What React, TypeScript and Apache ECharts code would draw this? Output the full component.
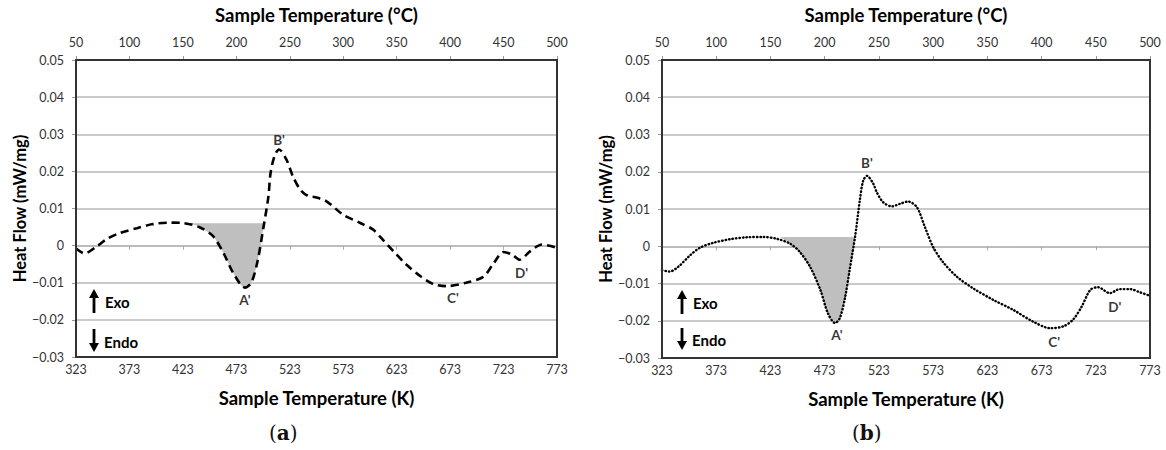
import React, { useEffect, useRef } from "react";
import * as echarts from "echarts";

// Axis ranges
const kelvinRange = [323, 773];
const kelvinStep = 50;
const celsiusRange = [50, 500];
const celsiusStep = 50;
const heatFlowRange = [-0.03, 0.05];
const heatFlowStep = 0.01;

// (a) dashed curve: [Sample temperature (K), heat flow (mW/mg)]
const curveA: number[][] = [
  [323, -0.0008], [331, -0.0021], [342, -0.0003], [352, 0.0018], [364, 0.0034],
  [380, 0.0047], [395, 0.0058], [411, 0.0062], [423, 0.0061], [439, 0.0049],
  [451, 0.0026], [461, -0.002], [470, -0.0073], [481, -0.0113], [487, -0.01],
  [493, -0.004], [498, 0.0043], [503, 0.0132], [505, 0.0195], [509, 0.0244],
  [513, 0.0259], [520, 0.0231], [526, 0.0186], [533, 0.015], [540, 0.0134],
  [546, 0.0131], [557, 0.012], [573, 0.0083], [589, 0.0061], [601, 0.0043],
  [610, 0.0016], [620, -0.0015], [632, -0.0051], [645, -0.0082], [657, -0.0103],
  [670, -0.0109], [688, -0.01], [704, -0.0084], [713, -0.0051], [723, -0.0017],
  [731, -0.0024], [738, -0.0038], [748, -0.0015], [759, 0.0003], [773, -0.0006],
];

// (b) dotted curve
const curveB: number[][] = [
  [323, -0.0064], [330, -0.0068], [338, -0.0055], [349, -0.0024], [358, -0.0004],
  [370, 0.0009], [386, 0.0019], [401, 0.0024], [416, 0.0025], [429, 0.002],
  [441, 0.0007], [450, -0.0015], [459.5, -0.0055], [469, -0.0117], [476, -0.018],
  [482.5, -0.0206], [487, -0.0193], [492, -0.0135], [496, -0.0064], [501, 0.0025],
  [505.5, 0.0125], [508.5, 0.0176], [512, 0.0189], [518, 0.0167], [521, 0.0145],
  [527, 0.0118], [535, 0.0107], [542.5, 0.0114], [550, 0.012], [558, 0.0105],
  [565.5, 0.0051], [573, -0.0002], [582, -0.0042], [595, -0.0082], [610, -0.0113],
  [628.5, -0.0144], [647, -0.0171], [665, -0.0202], [681, -0.022], [693, -0.0215],
  [702, -0.0197], [710, -0.0162], [718, -0.0117], [725, -0.011], [736, -0.0126],
  [745, -0.0115], [754.5, -0.0115], [764, -0.0124], [773, -0.0133],
];

// Shaded peak areas: [start K, end K, baseline heat flow]
const shadeBoundsA = [430, 499, 0.006];
const shadeBoundsB = [432, 501, 0.0025];

// Point labels: [name, K, heat flow]
const labelsA: [string, number, number][] = [
  ["A'", 481, -0.0113], ["B'", 513, 0.0259], ["C'", 670, -0.0109], ["D'", 738, -0.0038],
];
const labelsB: [string, number, number][] = [
  ["A'", 482.5, -0.0206], ["B'", 512, 0.0189], ["C'", 681, -0.022], ["D'", 736, -0.0126],
];

const FONT = "Lato, 'Open Sans', sans-serif";

function shadeData(curve: number[][], bounds: number[]) {
  const [s, e, base] = bounds;
  const inner = curve.filter((p) => p[0] > s && p[0] < e);
  return [[s, base], ...inner, [e, base]];
}

function fmtY(v: number) {
  if (Math.abs(v) < 1e-9) return "0";
  return v.toFixed(2).replace("-", "\u2212");
}

function axesFor(gridIndex: number) {
  const x = [
    {
      type: "value", gridIndex, position: "bottom",
      min: kelvinRange[0], max: kelvinRange[1], interval: kelvinStep,
      name: "Sample Temperature (K)", nameLocation: "middle", nameGap: 31,
      nameTextStyle: { fontFamily: FONT, fontWeight: "bold", fontSize: 18.5, color: "#000" },
      axisLine: { show: false, onZero: false },
      axisTick: { show: false },
      splitLine: { show: false },
      axisLabel: { margin: 6, fontFamily: FONT, fontSize: 12.5, color: "#333" },
    },
    {
      type: "value", gridIndex, position: "top",
      min: celsiusRange[0], max: celsiusRange[1], interval: celsiusStep,
      name: "Sample Temperature (°C)", nameLocation: "middle", nameGap: 36,
      nameTextStyle: { fontFamily: FONT, fontWeight: "bold", fontSize: 18.5, color: "#000" },
      axisLine: { show: false, onZero: false },
      axisTick: { show: true, length: 4, lineStyle: { color: "#999" } },
      splitLine: { show: false },
      axisLabel: { margin: 11, fontFamily: FONT, fontSize: 12.5, color: "#333" },
    },
    {
      type: "value", gridIndex, position: "bottom",
      min: kelvinRange[0], max: kelvinRange[1], interval: kelvinStep,
      axisLine: { show: true, onZero: true, lineStyle: { color: "#b8b8b8", width: 1.5 } },
      axisTick: { show: true, length: 4, lineStyle: { color: "#aaa" } },
      axisLabel: { show: false },
      splitLine: { show: false },
    },
  ];
  const y = {
    type: "value", gridIndex,
    min: heatFlowRange[0], max: heatFlowRange[1], interval: heatFlowStep,
    name: "Heat Flow (mW/mg)", nameLocation: "middle", nameGap: 46,
    nameTextStyle: { fontFamily: FONT, fontWeight: "bold", fontSize: 16.5, color: "#000" },
    axisLine: { show: false },
    axisTick: { show: true, length: 4, lineStyle: { color: "#999" } },
    splitLine: { show: true, showMinLine: false, showMaxLine: false, lineStyle: { color: "#b8b8b8", width: 1.5 } },
    axisLabel: { margin: 12, fontFamily: FONT, fontSize: 12.5, color: "#333", formatter: fmtY },
  };
  return { x, y };
}

function seriesFor(
  gridIndex: number, curve: number[][], bounds: number[],
  labels: [string, number, number][], lineType: any, width: number, cap: string,
  labelOpts: Record<string, any>
) {
  const xi = gridIndex * 3;
  return [
    {
      type: "line", xAxisIndex: xi, yAxisIndex: gridIndex,
      data: shadeData(curve, bounds), smooth: 0.3, showSymbol: false, symbol: "none",
      lineStyle: { width: 0 },
      areaStyle: { color: "#bfbfbf", opacity: 1, origin: bounds[2] },
      z: 2, silent: true,
    },
    {
      type: "line", xAxisIndex: xi, yAxisIndex: gridIndex,
      data: curve, smooth: 0.3, showSymbol: false, symbol: "none",
      lineStyle: { color: "#000", width, type: lineType, cap },
      z: 3,
    },
    {
      type: "scatter", xAxisIndex: xi, yAxisIndex: gridIndex,
      symbolSize: 1, itemStyle: { color: "rgba(0,0,0,0)" },
      data: labels.map(([name, k, v]) => ({
        name, value: [k, v],
        label: {
          show: true, formatter: name,
          fontFamily: FONT, fontWeight: "bold", fontSize: 13.5, color: "#000",
          ...(labelOpts[name] || {}),
        },
      })),
      z: 4,
    },
  ];
}

// Exo / Endo direction markers (arrow shaft + head, then text)
function exoEndo(ax: number, exoTop: number, exoBottom: number, endoTop: number, endoBottom: number, textX: number) {
  const stroke = { stroke: "#000", lineWidth: 2.8 };
  const head = 5;
  const txtFont = `bold 15px ${FONT}`;
  return [
    { type: "line", shape: { x1: ax, y1: exoBottom, x2: ax, y2: exoTop + 7 }, style: stroke },
    { type: "polygon", shape: { points: [[ax - head, exoTop + 9], [ax + head, exoTop + 9], [ax, exoTop]] }, style: { fill: "#000" } },
    { type: "text", x: textX, y: (exoTop + exoBottom) / 2 + 1, style: { text: "Exo", font: txtFont, fill: "#000", verticalAlign: "middle" } },
    { type: "line", shape: { x1: ax, y1: endoTop, x2: ax, y2: endoBottom - 7 }, style: stroke },
    { type: "polygon", shape: { points: [[ax - head, endoBottom - 9], [ax + head, endoBottom - 9], [ax, endoBottom]] }, style: { fill: "#000" } },
    { type: "text", x: textX - 1, y: (endoTop + endoBottom) / 2 + 1, style: { text: "Endo", font: txtFont, fill: "#000", verticalAlign: "middle" } },
  ];
}

function caption(cx: number, letter: string) {
  return {
    type: "text", left: cx - 14, top: 423,
    style: {
      text: `{n|(}{b|${letter}}{n|)}`,
      rich: {
        n: { font: "20px 'DejaVu Serif', 'Liberation Serif', serif", fill: "#111" },
        b: { font: "bold 20px 'DejaVu Serif', 'Liberation Serif', serif", fill: "#111" },
      },
    },
  };
}

export default function App() {
  const ref = useRef<HTMLDivElement>(null);
  useEffect(() => {
    if (!ref.current) return;
    const chart = echarts.init(ref.current, null, { renderer: "svg" });
    const a = axesFor(0);
    const b = axesFor(1);
    const labelOptsA = {
      "A'": { position: "bottom", distance: 5 },
      "B'": { position: "top", distance: 2 },
      "C'": { position: "bottom", distance: 4, offset: [6, 0] },
      "D'": { position: "bottom", distance: 6, offset: [2, 0] },
    };
    const labelOptsB = {
      "A'": { position: "bottom", distance: 5, offset: [2, 0] },
      "B'": { position: "top", distance: 5 },
      "C'": { position: "bottom", distance: 6, offset: [4, 0] },
      "D'": { position: "bottom", distance: 6, offset: [5, 0] },
    };
    const option: any = {
      animation: false,
      textStyle: { fontFamily: FONT },
      grid: [
        { left: 76, top: 59, width: 481, height: 298, show: true, borderColor: "#333", borderWidth: 2, backgroundColor: "transparent", z: 5 },
        { left: 662, top: 58, width: 488, height: 300, show: true, borderColor: "#333", borderWidth: 2, backgroundColor: "transparent", z: 5 },
      ],
      xAxis: [...a.x, ...b.x],
      yAxis: [a.y, b.y],
      series: [
        ...seriesFor(0, curveA, shadeBoundsA, labelsA, [8, 5], 2.6, "butt", labelOptsA),
        ...seriesFor(1, curveB, shadeBoundsB, labelsB, [0.5, 3], 2.4, "round", labelOptsB),
      ],
      graphic: [
        ...exoEndo(94, 289, 313, 329, 352, 105),
        ...exoEndo(682, 290, 314, 328, 350, 693),
        caption(283, "a"),
        caption(866, "b"),
      ],
    };
    chart.setOption(option);
    return () => chart.dispose();
  }, []);
  return (
    <div
      ref={ref}
      style={{ position: "fixed", left: 0, top: 0, width: 1166, height: 450, background: "#fff" }}
    />
  );
}
